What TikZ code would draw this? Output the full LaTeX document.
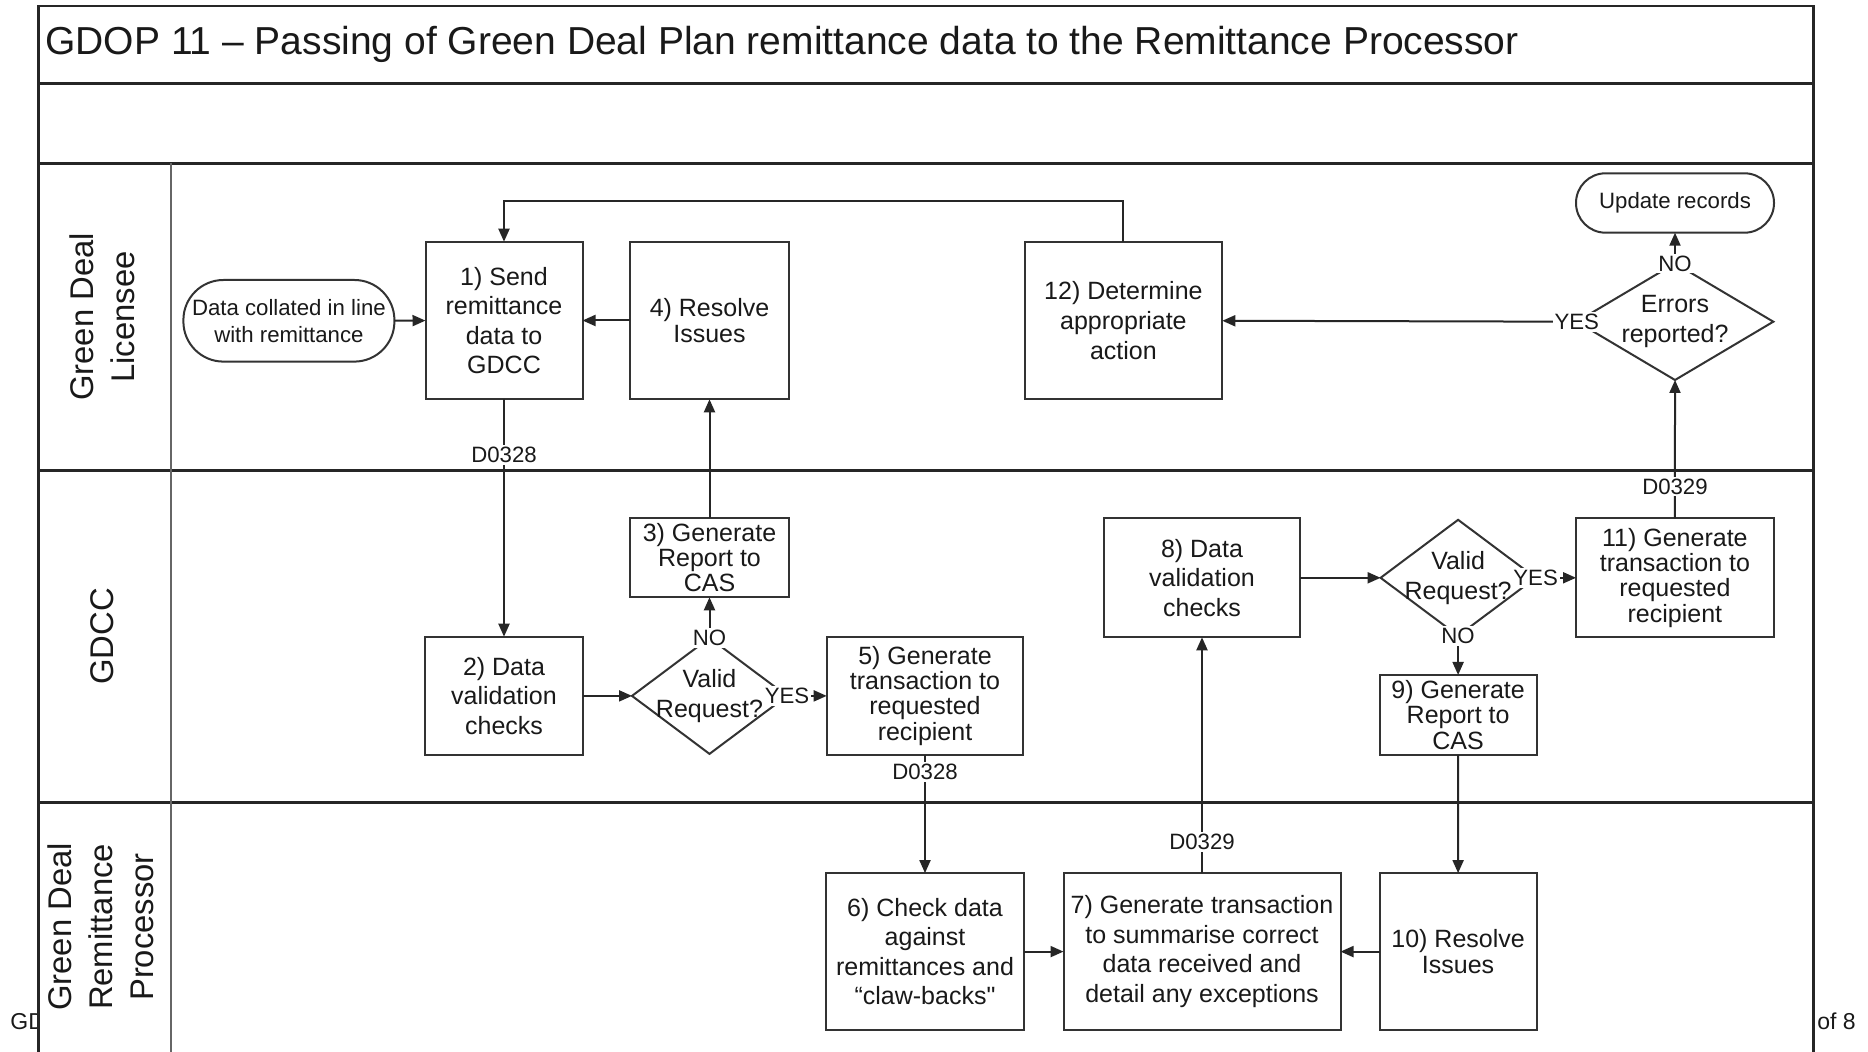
\documentclass[tikz,border=0pt]{standalone}
\usepackage{fontspec}
\setmainfont{Liberation Sans}
\newfontfamily\plainquote{Liberation Sans}[Ligatures=TeXOff]
\usepackage{tikz}
\usetikzlibrary{positioning,calc,arrows.meta,shapes.geometric}
\newcommand{\titlefont}{\fontsize{19.5}{23}\selectfont}
\newcommand{\lanefont}{\fontsize{16.4}{20.5}\selectfont}
\newcommand{\stepfont}{\fontsize{12.5}{14.8}\selectfont}
\newcommand{\tightfont}{\fontsize{12.5}{12.6}\selectfont}
\newcommand{\tagfont}{\fontsize{11.1}{13.7}\selectfont}

\begin{document}
\begin{tikzpicture}[x=0.5pt, y=-0.5pt,
  every node/.style={align=center, font=\stepfont, text=black!90},
  proc/.style={rectangle, draw=black!80, line width=1pt, fill=white, inner sep=0pt, outer sep=0pt},
  tight/.style={font=\tightfont},
  term/.style={rectangle, draw=black!80, line width=1pt, fill=white, inner sep=0pt, outer sep=0pt, font=\tagfont},
  decision/.style={diamond, draw=black!80, line width=1pt, fill=white, inner sep=0pt, outer sep=0pt, minimum width=77.5pt, minimum height=58pt},
  qtext/.style={font=\stepfont},
  tag/.style={fill=white, inner sep=1pt, font=\tagfont},
  lane/.style={rotate=90, font=\lanefont},
  foot/.style={anchor=west, inner sep=0pt, font=\fontsize{11.5}{13}\selectfont},
  pool/.style={line width=1.35pt, draw=black!85},
  arr/.style={-{Triangle[length=6.5pt,width=5.5pt]}, line width=1pt, draw=black!85}
]
\useasboundingbox (0,0) rectangle (1868,1052);
% Footer peeking out behind the pool
\node[foot] (footl) at (10,1021.7) {GD};
\node[foot] (footr) at (1817,1021.7) {of 8};
% Pool and lanes
\fill[white] (38.7,6) rectangle (1813.7,1052);
\draw[pool] (38.7,1052) -- (38.7,6) -- (1813.7,6) -- (1813.7,1052);
\draw[pool] (38.7,83.4) -- (1813.7,83.4);
\draw[pool] (38.7,163.3) -- (1813.7,163.3);
\draw[pool] (38.7,470.7) -- (1813.7,470.7);
\draw[pool] (38.7,802.2) -- (1813.7,802.2);
\draw[pool, draw=black!60] (171,163.3) -- (171,1052);
\node[anchor=west, inner sep=0pt, font=\titlefont] (title) at (45,44.7) {GDOP 11 – Passing of Green Deal Plan remittance data to the Remittance Processor};
\node[lane] (lane1) at (102,317) {Green Deal\\Licensee};
\node[lane] (lane2) at (102,636.5) {GDCC};
\node[lane] (lane3) at (101,927) {Green Deal\\Remittance\\Processor};
% Lane 1: Green Deal Licensee
\node[term, minimum width=105.5pt, minimum height=40.8pt, rounded corners=20pt] (start) at (288.9,320.8) {Data collated in line\\with remittance};
\node[proc, minimum width=78.5pt, minimum height=78.8pt] (p1) at (504,320.5) {1) Send\\remittance\\data to\\GDCC};
\node[proc, tight, minimum width=79.5pt, minimum height=78.8pt, right=23.75pt of p1] (p4) {4) Resolve\\Issues};
\node[proc, minimum width=98.9pt, minimum height=78.8pt] (p12) at (1123.4,320.5) {12) Determine\\appropriate\\action};
\node[decision, minimum width=98.3pt, minimum height=58.3pt] (q3) at (1675,321.7) {};
\node[qtext] (q3t) at (q3) {Errors\\reported?};
\node[term, minimum width=99pt, minimum height=29.7pt, rounded corners=14.8pt, above=15.35pt of q3] (upd) {Update records};
% Lane 2: GDCC
\node[proc, minimum width=79pt, minimum height=59.2pt, below=118.7pt of p1] (p2) {2) Data\\validation\\checks};
\node[decision, right=24.5pt of p2] (q1) {};
\node[qtext] (q1t) at (q1) {Valid\\Request?};
\node[proc, tight, minimum width=79.5pt, minimum height=39.5pt] (p3) at (709.5,557.8) {3) Generate\\Report to\\CAS};
\node[proc, tight, minimum width=98.3pt, minimum height=59.2pt, right=19.85pt of q1] (p5) {5) Generate\\transaction to\\requested\\recipient};
\node[proc, minimum width=98.3pt, minimum height=59.5pt] (p8) at (1202,577.8) {8) Data\\validation\\checks};
\node[decision, right=40.15pt of p8] (q2) {};
\node[qtext] (q2t) at (q2) {Valid\\Request?};
\node[proc, tight, minimum width=98.9pt, minimum height=59.5pt, right=20.2pt of q2] (p11) {11) Generate\\transaction to\\requested\\recipient};
\node[proc, tight, minimum width=78.6pt, minimum height=40pt, below=19.6pt of q2] (p9) {9) Generate\\Report to\\CAS};
% Lane 3: Green Deal Remittance Processor
\node[proc, minimum width=99pt, minimum height=78.5pt, below=59pt of p5] (p6) {6) Check data\\against\\remittances and\\“claw-backs{\plainquote"}};
\node[proc, minimum width=138.5pt, minimum height=78.5pt, right=19.75pt of p6] (p7) {7) Generate transaction\\to summarise correct\\data received and\\detail any exceptions};
\node[proc, tight, minimum width=78.6pt, minimum height=78.5pt, right=19.5pt of p7] (p10) {10) Resolve\\Issues};
% Arrows
\coordinate (ret) at (504,200.7);
\draw[arr] (start) -- (p1);
\draw[arr] (p4) -- (p1);
\draw[arr] (p12.north) |- (ret) -- (p1.north);
\draw[arr] (p1) -- node[tag, pos=0.235] (d1) {D0328} (p2);
\draw[arr] (p2) -- (q1);
\draw[arr] (q1.north) -- node[tag, pos=0] (no1) {NO} (p3);
\draw[arr] (q1.east) -- node[tag, pos=0] (yes1) {YES} (p5);
\draw[arr] (p3) -- (p4);
\draw[arr] (p5) -- node[tag, pos=0.144] (d2) {D0328} (p6);
\draw[arr] (p6) -- (p7);
\draw[arr] (p10) -- (p7);
\draw[arr] (p7) -- node[tag, pos=0.133] (d3) {D0329} (p8);
\draw[arr] (p8) -- (q2);
\draw[arr] (q2.east) -- node[tag, pos=0] (yes2) {YES} (p11);
\draw[arr] (q2.south) -- node[tag, pos=0] (no2) {NO} (p9);
\draw[arr] (p9) -- (p10);
\draw[arr] (p11) -- node[tag, pos=0.229] (d4) {D0329} (q3.south);
\draw[arr] (q3.west) -- node[tag, pos=0] (yes3) {YES} (p12);
\draw[arr] (q3.north) -- node[tag, pos=0] (no3) {NO} (upd);
\end{tikzpicture}
\end{document}
